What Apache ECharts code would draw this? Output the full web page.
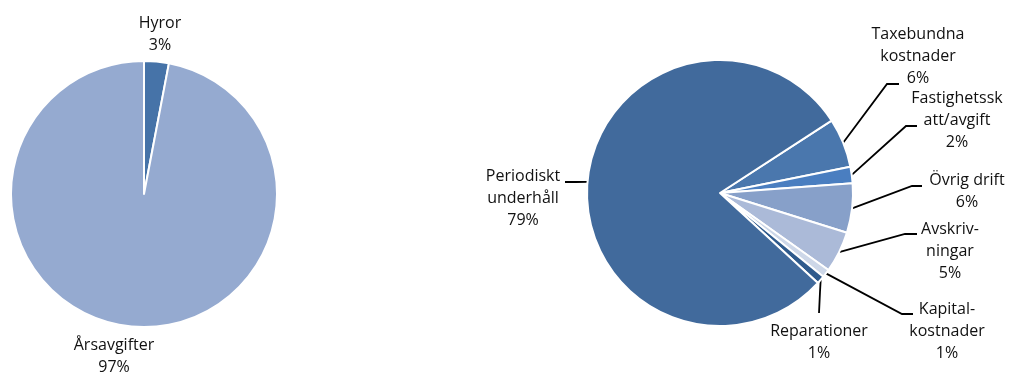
<!DOCTYPE html>
<html>
<head>
<meta charset="utf-8">
<script src="https://cdn.jsdelivr.net/npm/echarts@6/dist/echarts.min.js"></script>
<style>
html,body{margin:0;padding:0;background:#fff;}
#chart{width:1010px;height:374px;}
</style>
</head>
<body>
<div id="chart"></div>
<script>
// ---- data ----
const leftCategories = ['Hyror', 'Årsavgifter'];
const leftLabels = ['Hyror', 'Årsavgifter'];
const leftValues = [3, 97];

const rightCategories = ['Taxebundna kostnader', 'Fastighetsskatt/avgift', 'Övrig drift', 'Avskrivningar', 'Kapitalkostnader', 'Reparationer', 'Periodiskt underhåll'];
const rightLabels = ['Taxebundna\nkostnader', 'Fastighetssk\natt/avgift', 'Övrig drift', 'Avskriv-\nningar', 'Kapital-\nkostnader', 'Reparationer', 'Periodiskt\nunderhåll'];
const rightValues = [6, 2, 6, 5, 1, 1, 79];

// ---- styles / layout ----
const leftColors = ['#4673a8', '#95aad0'];
const rightColors = ['#4a77ad', '#4a7ec0', '#87a0c9', '#abbad8', '#cdd7e8', '#2f5a8c', '#416a9c'];

// label anchor positions (center of text block) and label-line elbows
const leftLabelPos = [[160, 34], [114, 356]];
const rightLabelPos = [[918, 56], [957, 120], [967, 191], [950, 251], [947, 331], [819, 342], [523, 198]];
const rightElbows = [
  [[887, 84], [899, 84]],
  [[906, 126], [917, 126]],
  [[912, 186], [922, 186]],
  [[905, 234], [917, 234]],
  [[902, 314], [913, 314]],
  [[820, 292], [819, 313]],
  [[576, 182], [565, 182]]
];

const FONT = '"Open Sans", "Noto Sans", sans-serif';

const chart = echarts.init(document.getElementById('chart'), null, {renderer: 'canvas'});

function mkData(cats, vals, colors) {
  return cats.map((c, i) => ({name: c, value: vals[i], itemStyle: {color: colors[i]}}));
}

const labelStyle = {
  show: true,
  position: 'outside',
  color: '#111',
  fontFamily: FONT,
  fontSize: 16,
  lineHeight: 22,
  align: 'center'
};

chart.setOption({
  animation: false,
  series: [
    {
      type: 'pie',
      center: [144, 194],
      radius: 133,
      startAngle: 90,
      clockwise: true,
      avoidLabelOverlap: false,
      itemStyle: {borderColor: '#fff', borderWidth: 2},
      label: Object.assign({}, labelStyle, {
        formatter: p => leftLabels[p.dataIndex] + '\n' + p.value + '%'
      }),
      labelLine: {show: false},
      labelLayout: function (p) {
        const pos = leftLabelPos[p.dataIndex];
        return {x: pos[0], y: pos[1], align: 'center', verticalAlign: 'middle', hideOverlap: false};
      },
      emphasis: {disabled: true},
      data: mkData(leftCategories, leftValues, leftColors)
    },
    {
      type: 'pie',
      center: [720, 193],
      radius: 133,
      startAngle: 33,
      clockwise: true,
      avoidLabelOverlap: false,
      itemStyle: {borderColor: '#fff', borderWidth: 2},
      label: Object.assign({}, labelStyle, {
        formatter: p => rightLabels[p.dataIndex] + '\n' + p.value + '%'
      }),
      labelLine: {show: true, length: 10, length2: 10, lineStyle: {color: '#000', width: 1.8}},
      labelLayout: function (p) {
        const i = p.dataIndex;
        const pos = rightLabelPos[i];
        const start = p.labelLinePoints ? p.labelLinePoints[0] : null;
        const res = {x: pos[0], y: pos[1], align: 'center', verticalAlign: 'middle', hideOverlap: false};
        if (start) {
          res.labelLinePoints = [start, rightElbows[i][0], rightElbows[i][1]];
        }
        return res;
      },
      emphasis: {disabled: true},
      data: mkData(rightCategories, rightValues, rightColors)
    }
  ]
});
</script>
</body>
</html>
